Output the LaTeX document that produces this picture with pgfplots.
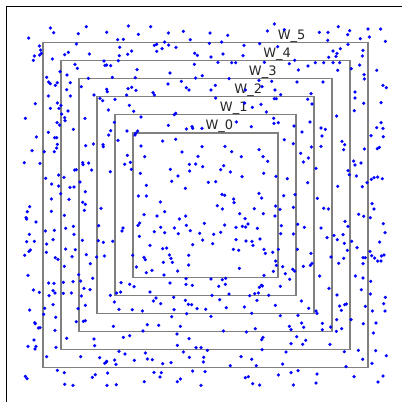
\documentclass[border=0pt]{standalone}
\usepackage{pgfplots}
\pgfplotsset{compat=1.18}
\usepackage{pgfplotstable}
\usepackage{fontspec}
\setmainfont{DejaVu Sans}

% Sample positions on a 1206 x 1206 grid (four 603 x 603 blocks, y downwards);
% they are mapped to the unit square in the plot commands below.
\pgfplotstableread{
u v
151 84
259 80
385 78
452 80
550 94
161 98
235 101
320 97
415 103
505 99
86 114
353 119
370 118
571 119
229 132
118 138
463 136
470 133
494 126
506 135
528 142
359 142
486 146
122 150
395 153
470 154
584 160
194 164
205 157
268 162
383 163
358 167
103 168
119 165
124 160
592 166
100 181
157 177
355 182
312 183
320 195
225 193
232 205
332 197
315 196
583 193
411 209
180 215
510 219
140 232
201 225
337 232
406 233
265 235
146 246
151 251
166 256
172 248
211 248
504 252
544 244
587 234
244 260
384 266
395 262
408 271
559 263
567 270
200 269
320 268
322 275
459 278
463 285
145 288
211 288
282 285
380 285
300 295
308 302
345 298
106 311
172 309
183 316
151 325
177 325
185 342
204 333
325 330
401 334
388 316
523 344
527 340
76 355
194 353
195 362
255 355
423 351
171 368
179 375
505 376
559 387
576 380
578 385
343 367
220 388
381 393
413 393
407 400
405 405
145 397
109 411
164 413
170 413
332 392
326 405
354 421
488 423
527 418
257 437
280 432
309 434
310 440
423 438
172 433
170 444
96 452
133 455
163 455
546 456
382 466
434 470
594 469
73 488
120 490
248 488
249 494
266 489
275 510
391 487
374 493
587 492
568 493
394 508
511 508
569 513
229 509
224 510
331 515
421 520
534 528
176 525
192 532
137 535
515 544
155 552
176 558
210 562
222 561
240 546
556 565
439 556
256 575
182 581
415 588
439 588
154 597
207 598
}\blockA

\pgfplotstableread{
u v
220 72
412 80
27 99
80 106
199 93
250 89
355 97
381 97
440 104
446 92
501 87
539 87
478 116
505 111
380 121
25 130
62 126
129 136
176 131
230 140
553 124
396 153
418 146
441 133
486 151
30 171
66 162
126 167
408 160
405 169
484 168
51 187
92 188
104 188
190 187
281 181
265 191
321 198
343 188
368 188
383 172
396 188
416 188
476 195
292 210
410 211
451 206
527 211
489 224
490 237
4 227
84 236
174 241
212 244
288 246
366 246
546 256
556 263
30 270
43 256
133 270
183 260
222 270
462 276
239 284
330 281
44 294
220 296
226 296
320 298
462 294
131 309
154 322
180 313
333 312
488 310
540 308
460 332
196 336
218 355
219 370
232 368
106 366
151 380
327 366
360 384
373 388
407 348
540 368
527 383
546 385
3 385
510 407
547 410
279 378
303 396
277 431
250 419
363 408
331 441
360 439
423 424
431 434
428 449
490 447
529 446
535 442
3 440
72 439
92 455
174 449
186 470
200 484
121 470
299 460
322 474
307 486
458 483
462 495
480 489
5 500
59 509
68 497
88 516
123 530
188 520
225 529
345 505
441 512
445 524
466 528
511 538
519 533
530 531
544 536
22 547
44 545
259 536
320 548
410 559
484 560
498 548
63 583
71 586
174 580
182 594
98 597
248 587
282 584
349 595
}\blockB

\pgfplotstableread{
u v
89 17
82 32
154 31
78 50
80 54
108 63
193 43
248 4
256 10
253 28
303 22
136 90
163 88
197 82
220 76
222 100
296 74
88 100
103 121
80 122
140 129
159 116
91 147
87 151
74 163
139 154
166 170
174 175
197 144
216 167
226 146
259 161
271 188
247 118
295 119
310 124
338 121
290 168
313 165
193 196
84 223
146 246
162 247
190 244
219 242
242 240
278 232
236 221
100 267
118 274
159 269
165 276
147 284
190 277
214 276
252 262
270 266
244 285
134 322
131 340
159 311
167 349
89 327
256 313
234 323
104 365
106 368
115 381
120 380
165 388
229 362
250 361
256 359
340 376
102 417
108 436
105 444
84 436
168 439
200 412
282 414
284 434
242 467
299 470
318 484
314 487
320 481
344 477
348 490
323 516
140 467
172 508
193 515
277 529
286 521
76 526
81 533
194 550
219 553
321 553
349 551
331 283
343 303
357 325
362 273
350 276
432 41
471 45
494 32
481 3
538 54
557 45
414 73
419 66
369 81
366 90
463 92
482 79
494 95
523 81
535 98
559 73
571 89
599 97
418 106
450 133
488 143
500 141
508 162
513 172
490 184
517 184
432 169
436 176
398 163
409 198
439 215
456 208
492 222
533 210
566 192
566 163
578 131
510 246
558 233
558 250
577 253
363 245
389 250
402 257
450 273
468 291
460 300
482 308
521 289
556 298
565 310
575 311
591 323
522 326
515 347
560 338
427 330
397 326
429 390
442 371
476 373
541 376
531 399
567 413
370 409
389 404
532 433
550 453
588 440
357 451
375 459
436 456
442 474
457 476
488 488
513 485
568 469
403 478
462 514
484 515
480 528
578 510
541 534
532 542
433 542
}\blockC

\pgfplotstableread{
u v
99 5
49 14
64 24
160 23
224 15
237 25
277 19
368 22
382 24
513 8
519 24
473 40
488 46
508 50
116 38
187 38
222 45
132 53
10 67
71 72
105 79
124 76
134 78
141 69
169 82
241 74
290 70
310 79
360 81
432 61
441 76
547 68
552 95
38 100
59 94
239 98
277 99
399 103
378 110
409 116
426 101
452 121
536 123
5 117
35 128
105 116
135 120
153 121
156 133
177 114
430 127
97 145
113 148
189 145
193 157
215 154
232 145
289 145
330 157
439 148
468 140
507 151
549 162
224 180
226 193
245 197
275 205
281 210
307 196
328 193
333 187
390 168
413 187
428 172
486 170
486 188
493 170
512 164
521 171
530 180
540 180
541 165
115 202
217 211
253 218
266 235
356 225
189 223
463 225
486 231
509 241
30 234
64 236
74 232
53 256
73 250
181 253
184 255
175 259
238 256
384 262
408 282
481 266
508 279
84 279
161 278
172 276
33 283
146 284
203 283
56 296
168 298
301 300
553 289
548 308
552 330
14 325
76 320
130 318
223 313
323 322
345 330
348 337
416 315
421 328
431 311
436 309
493 316
514 330
30 346
152 337
238 344
291 343
407 356
450 356
525 366
487 368
302 366
308 379
364 367
364 386
389 378
422 383
406 391
265 376
270 386
163 383
67 390
136 393
186 409
182 416
287 407
314 418
305 430
270 428
387 430
517 396
0 440
19 448
183 446
255 453
472 448
524 449
430 452
8 469
120 467
152 475
485 475
556 464
7 483
88 494
166 494
245 489
435 497
513 487
12 512
232 522
270 515
291 509
348 519
459 527
546 525
133 530
142 527
155 548
176 552
277 552
345 546
531 543
0 553
}\blockD

\begin{document}
\begin{tikzpicture}
\begin{axis}[
  scale only axis,
  width=397.65pt, height=397.65pt,
  xmin=-0.05, xmax=1.05, ymin=-0.05, ymax=1.05,
  axis x line*=top, axis y line*=left,
  axis line style={black, line width=1pt},
  xtick=\empty, ytick=\empty,
  every axis plot/.append style={line join=miter},
]
\pgfplotsset{dots/.style={only marks, mark=*, mark size=1.55pt,
  mark options={fill=blue, draw=blue, line width=0.2pt}}}
\addplot[dots] table[x expr=(\thisrow{u}-74.25)/1084.5, y expr=(1157.25-\thisrow{v})/1084.5] {\blockA};
\addplot[dots] table[x expr=(\thisrow{u}+603-74.25)/1084.5, y expr=(1157.25-\thisrow{v})/1084.5] {\blockB};
\addplot[dots] table[x expr=(\thisrow{u}-74.25)/1084.5, y expr=(1157.25-603-\thisrow{v})/1084.5] {\blockC};
\addplot[dots] table[x expr=(\thisrow{u}+603-74.25)/1084.5, y expr=(1157.25-603-\thisrow{v})/1084.5] {\blockD};

% nested windows W_0 ... W_5
\pgfplotsset{win/.style={black!50, line width=1.6pt, line cap=rect, mark=none}}
\addplot[win] coordinates {(0.30,0.30) (0.70,0.30) (0.70,0.70) (0.30,0.70) (0.30,0.30)};
\addplot[win] coordinates {(0.25,0.25) (0.75,0.25) (0.75,0.75) (0.25,0.75) (0.25,0.25)};
\addplot[win] coordinates {(0.20,0.20) (0.80,0.20) (0.80,0.80) (0.20,0.80) (0.20,0.20)};
\addplot[win] coordinates {(0.15,0.15) (0.85,0.15) (0.85,0.85) (0.15,0.85) (0.15,0.15)};
\addplot[win] coordinates {(0.10,0.10) (0.90,0.10) (0.90,0.90) (0.10,0.90) (0.10,0.10)};
\addplot[win] coordinates {(0.05,0.05) (0.95,0.05) (0.95,0.95) (0.05,0.95) (0.05,0.05)};

\begin{scope}[every node/.style={anchor=south west, inner sep=0pt, outer sep=0pt,
  font=\fontsize{13}{15}\selectfont, text=black!85}]
\node at (axis cs:0.50,0.70) {W\_0};
\node at (axis cs:0.54,0.75) {W\_1};
\node at (axis cs:0.58,0.80) {W\_2};
\node at (axis cs:0.62,0.85) {W\_3};
\node at (axis cs:0.66,0.90) {W\_4};
\node at (axis cs:0.70,0.95) {W\_5};
\end{scope}
\end{axis}
\pgfresetboundingbox
\path[use as bounding box] ([xshift=-6.7pt,yshift=6.2pt]current axis.north west) rectangle ++(402pt,-402pt);
\end{tikzpicture}
\end{document}
